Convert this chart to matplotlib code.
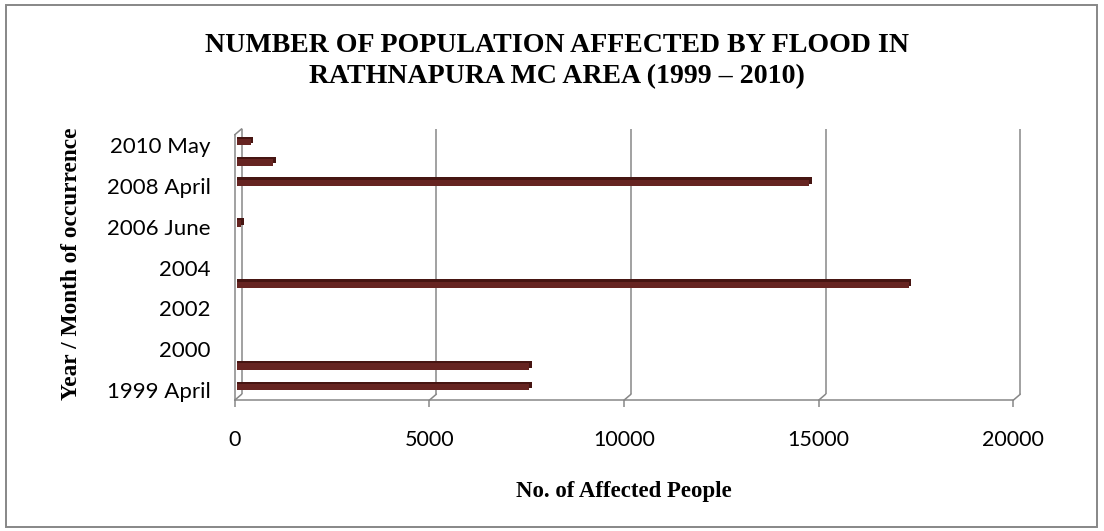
import matplotlib
matplotlib.use("Agg")
import matplotlib.pyplot as plt
from matplotlib.transforms import ScaledTranslation
from matplotlib.patches import ConnectionPatch, Rectangle

# ---- data -------------------------------------------------------------
categories = ["1999 April", "1999 June", "2000", "2001", "2002", "2003 May",
              "2004", "2005", "2006 June", "2007", "2008 April", "2009",
              "2010 May"]
affected = [7500, 7500, 0, 0, 0, 17250, 0, 0, 100, 0, 14700, 930, 350]
x_ticks = [0, 5000, 10000, 15000, 20000]
title = "NUMBER OF POPULATION AFFECTED BY FLOOD IN\nRATHNAPURA MC AREA (1999 \u2013 2010)"
x_label = "No. of Affected People"
y_label = "Year / Month of occurrence"

# ---- figure -----------------------------------------------------------
W_PX, H_PX, DPI = 1104, 531, 100
fig = plt.figure(figsize=(W_PX / DPI, H_PX / DPI), dpi=DPI)
fig.patch.set_facecolor("white")


def shift(dx, dy):
    """Offset in screen pixels (dy positive = up)."""
    return ScaledTranslation(dx / DPI, dy / DPI, fig.dpi_scale_trans)


GRID = "#878787"
FRONT = "#662421"
SIDE = "#461512"
SERIF = "Liberation Serif"
SANS = "Lato"

ax = fig.add_axes([234.7 / W_PX, 1 - 400.2 / H_PX, 778.6 / W_PX, 265.4 / H_PX])
ax.patch.set_visible(False)

pos = list(range(len(categories)))
ylo, yhi = -0.5, len(categories) - 0.5

# back wall gridlines (pseudo-3D depth) and floor connectors
back = ax.transData + shift(7, 6)
for t in x_ticks:
    ax.plot([t, t], [ylo, yhi], color=GRID, lw=1.1, transform=back,
            clip_on=False, zorder=1, solid_capstyle="butt")
    ax.add_artist(ConnectionPatch(xyA=(t, ylo), coordsA=ax.transData,
                                  xyB=(t, ylo), coordsB=back,
                                  color=GRID, lw=1.1, clip_on=False))
ax.add_artist(ConnectionPatch(xyA=(0, yhi), coordsA=ax.transData,
                              xyB=(0, yhi), coordsB=back,
                              color=GRID, lw=1.1, clip_on=False))

# bars: front face at mid-depth; dark copies behind give top and end faces
front_t = ax.transData + shift(2.3, 3)
for dx in (2.3, 5.0):
    faces = ax.barh(pos, affected, height=0.32, color=SIDE, linewidth=0,
                    zorder=3)
    for b in faces:
        b.set_transform(ax.transData + shift(dx, 5.2))
        b.set_clip_on(False)
fronts = ax.barh(pos, affected, height=0.32, color=FRONT, linewidth=0, zorder=4)
for b in fronts:
    b.set_transform(front_t)
    b.set_clip_on(False)

ax.set_xlim(0, 20000)
ax.set_ylim(ylo, yhi)

for s in ("top", "right"):
    ax.spines[s].set_visible(False)
for s in ("left", "bottom"):
    ax.spines[s].set_color(GRID)
    ax.spines[s].set_linewidth(1.1)

ax.set_xticks(x_ticks, [str(t) for t in x_ticks])
ax.set_yticks(pos[::2], categories[::2])
ax.tick_params(axis="x", direction="out", length=5.3, width=1.1, color=GRID,
               labelsize=15.5, pad=16.5)
ax.tick_params(axis="y", length=0, labelsize=16, pad=17.5)
for lab in ax.get_xticklabels() + ax.get_yticklabels():
    lab.set_fontfamily(SANS)
    lab.set_color("black")

ax.set_xlabel(x_label, family=SERIF, fontweight="bold", fontsize=16.5)
ax.xaxis.set_label_coords((624 - 234.7) / 778.6, (400.2 - 491) / 265.4)
ax.xaxis.label.set_verticalalignment("center")
ax.set_ylabel(y_label, family=SERIF, fontweight="bold", fontsize=16.8)
ax.yaxis.set_label_coords((71 - 234.7) / 778.6, (400.2 - 264) / 265.4)
ax.yaxis.label.set_verticalalignment("center")

fig.text(557 / W_PX, 1 - 33 / H_PX, title, ha="center", va="top",
         family=SERIF, fontweight="bold", fontsize=20.1, linespacing=1.3)

# outer chart-area border
fig.add_artist(Rectangle((6 / W_PX, 4 / H_PX), 1091 / W_PX, 522 / H_PX,
                         transform=fig.transFigure, fill=False,
                         edgecolor=GRID, linewidth=1.4))

fig.savefig("out.png", dpi=DPI)
